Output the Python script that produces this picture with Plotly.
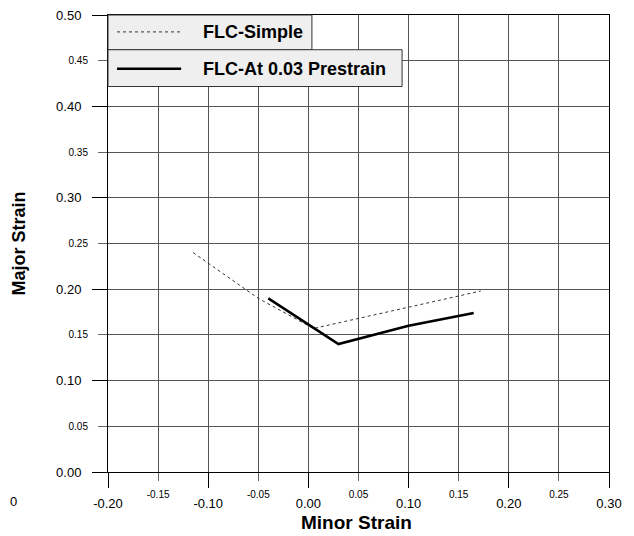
import plotly.graph_objects as go

# Data
simple_x = [-0.115, -0.05, 0.005, 0.05, 0.10, 0.172]
simple_y = [0.240, 0.190, 0.157, 0.168, 0.181, 0.198]
pre_x = [-0.040, 0.030, 0.100, 0.165]
pre_y = [0.190, 0.140, 0.160, 0.174]

x_major = [-0.20, -0.10, 0.00, 0.10, 0.20, 0.30]
x_major_lbl = ["-0.20", "-0.10", "0.00", "0.10", "0.20", "0.30"]
x_minor = [-0.15, -0.05, 0.05, 0.15, 0.25]
x_minor_lbl = ["-0.15", "-0.05", "0.05", "0.15", "0.25"]
y_major = [0.00, 0.10, 0.20, 0.30, 0.40, 0.50]
y_major_lbl = ["0.00", "0.10", "0.20", "0.30", "0.40", "0.50"]
y_minor = [0.05, 0.15, 0.25, 0.35, 0.45]
y_minor_lbl = ["0.05", "0.15", "0.25", "0.35", "0.45"]

names = ["FLC-Simple", "FLC-At 0.03 Prestrain"]
x_title = "Minor Strain"
y_title = "Major Strain"

FONT = "Liberation Sans, Arial, sans-serif"
GRID = "#555555"

fig = go.Figure()
fig.add_trace(go.Scatter(x=simple_x, y=simple_y, mode="lines", name=names[0],
                         line=dict(color="#333333", width=1, dash="dot"), showlegend=False))
fig.add_trace(go.Scatter(x=pre_x, y=pre_y, mode="lines", name=names[1],
                         line=dict(color="black", width=2.5), showlegend=False))
# invisible trace to anchor the minor-label axes
fig.add_trace(go.Scatter(x=pre_x, y=pre_y, xaxis="x2", yaxis="y2", mode="lines",
                         line=dict(width=0), opacity=0, hoverinfo="skip", showlegend=False))

xr = [-0.20, 0.30]
yr = [0.00, 0.50]

fig.update_layout(
    width=626, height=528,
    margin=dict(l=100, r=25, t=7, b=64, autoexpand=False),
    paper_bgcolor="white", plot_bgcolor="white",
    font=dict(family=FONT, color="black"),
    xaxis=dict(range=xr, tickvals=x_major, ticktext=x_major_lbl, ticks="outside",
               ticklen=15, tickcolor="black", tickwidth=1, ticklabelstandoff=4,
               tickfont=dict(size=13), showgrid=True, gridcolor=GRID, gridwidth=1,
               showline=True, linecolor="black", linewidth=1, mirror=True, zeroline=False,
               automargin=False, ticklabeloverflow="allow"),
    xaxis2=dict(range=xr, overlaying="x", side="bottom", anchor="y", tickvals=x_minor,
                ticktext=x_minor_lbl, ticks="outside", ticklen=8, tickcolor="#666666",
                ticklabelstandoff=5, tickfont=dict(size=10), showgrid=True, gridcolor=GRID,
                gridwidth=1, zeroline=False, showline=False, automargin=False),
    yaxis=dict(range=yr, tickvals=y_major, ticktext=y_major_lbl, ticks="outside",
               ticklen=15, tickcolor="black", tickwidth=1, ticklabelstandoff=8,
               tickfont=dict(size=13), showgrid=True, gridcolor=GRID, gridwidth=1,
               showline=True, linecolor="black", linewidth=1, mirror=True, zeroline=False,
               automargin=False, ticklabeloverflow="allow"),
    yaxis2=dict(range=yr, overlaying="y", side="left", anchor="x", tickvals=y_minor,
                ticktext=y_minor_lbl, ticks="outside", ticklen=9, tickcolor="#666666",
                ticklabelstandoff=8, tickfont=dict(size=10), showgrid=True, gridcolor=GRID,
                gridwidth=1, zeroline=False, showline=False, automargin=False),
)

# Axis titles
fig.add_annotation(xref="paper", yref="paper", x=0.497, y=-0.111, xanchor="center", yanchor="middle",
                   text="<b>" + x_title + "</b>", showarrow=False, font=dict(size=19))
fig.add_annotation(xref="paper", yref="paper", x=-0.1796, y=0.5, xanchor="center", yanchor="middle",
                   text="<b>" + y_title + "</b>", showarrow=False, textangle=-90, font=dict(size=18))

# Legend boxes (two stacked boxes, as in the reference)
fig.add_shape(type="rect", xref="paper", yref="paper", x0=0, x1=0.407, y0=0.924, y1=1.0,
              line=dict(color="#333333", width=1), fillcolor="#efefef", layer="above")
fig.add_shape(type="rect", xref="paper", yref="paper", x0=0, x1=0.587, y0=0.8435, y1=0.924,
              line=dict(color="#333333", width=1), fillcolor="#efefef", layer="above")
fig.add_shape(type="line", xref="paper", yref="paper", x0=0.018, x1=0.144, y0=0.963, y1=0.963,
              line=dict(color="#333333", width=1, dash="dot"), layer="above")
fig.add_shape(type="line", xref="paper", yref="paper", x0=0.018, x1=0.146, y0=0.8826, y1=0.8826,
              line=dict(color="black", width=2.5), layer="above")
fig.add_annotation(xref="paper", yref="paper", x=0.1856, y=0.963, xanchor="left", yanchor="middle",
                   text="<b>" + names[0] + "</b>", showarrow=False, font=dict(size=18))
fig.add_annotation(xref="paper", yref="paper", x=0.1856, y=0.8826, xanchor="left", yanchor="middle",
                   text="<b>" + names[1] + "</b>", showarrow=False, font=dict(size=18))
# stray clipped tick label at far left of the reference
fig.add_annotation(xref="paper", yref="paper", x=-0.1996, y=-0.0652, xanchor="left", yanchor="middle",
                   text="0", showarrow=False, font=dict(size=13))

fig.write_html("out.html")
